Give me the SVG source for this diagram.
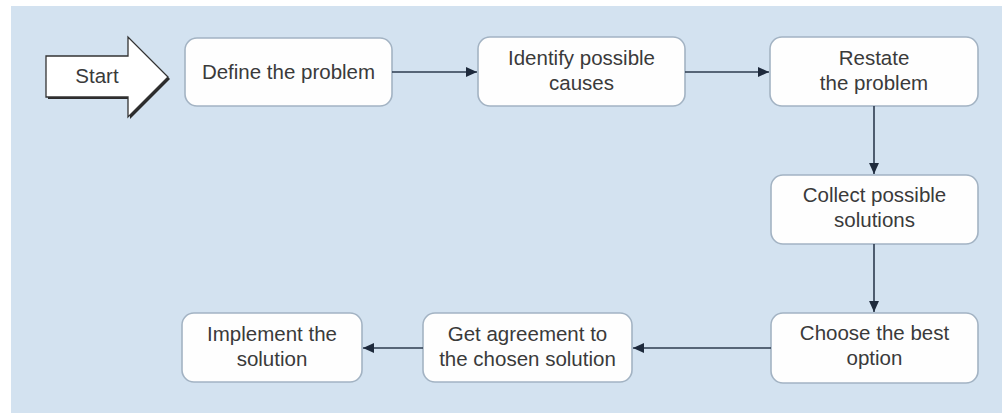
<svg xmlns="http://www.w3.org/2000/svg" width="1002" height="413" viewBox="0 0 1002 413">
  <defs>
    <style>
      .panel { fill: #d3e2f0; }
      .box { fill: #fefefe; stroke: #a3b3c3; stroke-width: 1.6; }
      .lbl { font-family: "Liberation Sans", Arial, sans-serif; font-size: 20.5px; fill: #3a3a3a; text-anchor: middle; }
      .conn { fill: none; stroke: #2d3b4f; stroke-width: 1.6; }
    </style>
    <marker id="arrow" viewBox="0 0 10 10" refX="10" refY="5" markerWidth="11" markerHeight="11" markerUnits="userSpaceOnUse" orient="auto">
      <path d="M0,0.5 L10,5 L0,9.5 Z" fill="#1e2a3c"/>
    </marker>
  </defs>

  <!-- background -->
  <rect x="0" y="0" width="1002" height="413" fill="#ffffff"/>
  <rect class="panel" x="11" y="6" width="991" height="407"/>

  <!-- start block arrow -->
  <g id="start">
    <path d="M48,58 L130,58 L130,39 L170,79 L130,119 L130,99 L48,99 Z" fill="#2b2b2b"/>
    <path d="M46,56 L128,56 L128,37 L168,77 L128,117 L128,97 L46,97 Z" fill="#ffffff" stroke="#333333" stroke-width="1.3" stroke-linejoin="miter"/>
    <text class="lbl" x="97" y="83">Start</text>
  </g>

  <g id="define">
    <rect class="box" x="185" y="38" width="207" height="68" rx="12"/>
    <text class="lbl" x="288.5" y="79">Define the problem</text>
  </g>

  <g id="identify">
    <rect class="box" x="478" y="37" width="207" height="69" rx="12"/>
    <text class="lbl" x="581.5" y="65">Identify possible</text>
    <text class="lbl" x="581.5" y="90">causes</text>
  </g>

  <g id="restate">
    <rect class="box" x="770" y="37" width="208" height="69" rx="12"/>
    <text class="lbl" x="874" y="65">Restate</text>
    <text class="lbl" x="874" y="90">the problem</text>
  </g>

  <g id="collect">
    <rect class="box" x="771" y="175" width="207" height="69" rx="12"/>
    <text class="lbl" x="874.5" y="202">Collect possible</text>
    <text class="lbl" x="874.5" y="227">solutions</text>
  </g>

  <g id="choose">
    <rect class="box" x="771" y="313" width="207" height="70" rx="12"/>
    <text class="lbl" x="874.5" y="340">Choose the best</text>
    <text class="lbl" x="874.5" y="365">option</text>
  </g>

  <g id="agreement">
    <rect class="box" x="423" y="313" width="209" height="69" rx="12"/>
    <text class="lbl" x="527.5" y="341">Get agreement to</text>
    <text class="lbl" x="527.5" y="366">the chosen solution</text>
  </g>

  <g id="implement">
    <rect class="box" x="182" y="313" width="180" height="69" rx="12"/>
    <text class="lbl" x="272" y="341">Implement the</text>
    <text class="lbl" x="272" y="366">solution</text>
  </g>

  <!-- connectors -->
  <g id="connectors">
    <line class="conn" x1="392" y1="72" x2="477" y2="72" marker-end="url(#arrow)"/>
    <line class="conn" x1="685" y1="72" x2="769" y2="72" marker-end="url(#arrow)"/>
    <line class="conn" x1="874" y1="106" x2="874" y2="174" marker-end="url(#arrow)"/>
    <line class="conn" x1="874" y1="244" x2="874" y2="312" marker-end="url(#arrow)"/>
    <line class="conn" x1="771" y1="348" x2="633" y2="348" marker-end="url(#arrow)"/>
    <line class="conn" x1="423" y1="348" x2="363" y2="348" marker-end="url(#arrow)"/>
  </g>
</svg>
